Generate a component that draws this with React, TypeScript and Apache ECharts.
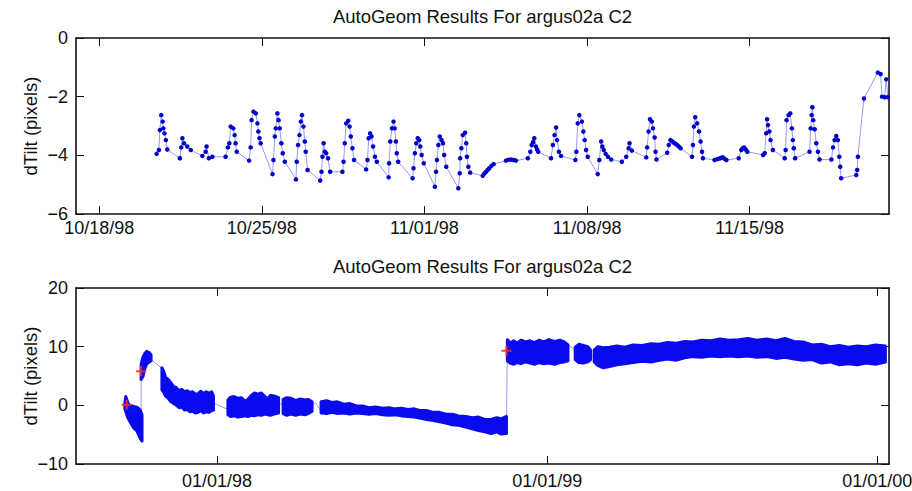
import React, { useEffect, useRef } from 'react';
import * as echarts from 'echarts';

const DAY = 86400000;
const FONT = '"Liberation Sans", Arial, Helvetica, sans-serif';
const TITLE = 'AutoGeom Results For argus02a C2';
const Y_NAME = 'dTilt (pixels)';

// ---------- top panel ----------
const topXTicks = ['1998-10-18', '1998-10-25', '1998-11-01', '1998-11-08', '1998-11-15'];
const topXRange = ['1998-10-17', '1998-11-21'];
const topYRange = [-6, 0];
const topYStep = 2;
// [day counted from 1 Oct 1998 (1 Nov = 32), dTilt]
const topPoints: [number, number][] = [
  [20.47, -3.95], [20.57, -3.82], [20.61, -3.14], [20.67, -2.63], [20.73, -2.85], [20.76, -3.08], [20.81, -3.25], [20.87, -3.48], [20.93, -3.8],
  [21.47, -4.1], [21.53, -3.73], [21.58, -3.42], [21.65, -3.59], [21.79, -3.7], [21.94, -3.82],
  [22.44, -4.02], [22.58, -3.88], [22.62, -3.7], [22.72, -4.1], [22.87, -4.05],
  [23.44, -4.05], [23.54, -3.73], [23.6, -3.59], [23.66, -3.02], [23.77, -3.08], [23.83, -3.31], [23.87, -3.59], [23.92, -3.88],
  [24.45, -4.18], [24.52, -3.73], [24.56, -2.8], [24.64, -2.51], [24.74, -2.57], [24.81, -2.91], [24.85, -3.19], [24.9, -3.42], [24.95, -3.59],
  [25.46, -4.64], [25.5, -4.16], [25.56, -3.36], [25.6, -3.08], [25.67, -2.57], [25.72, -2.8], [25.77, -3.08], [25.84, -3.59], [25.9, -3.93], [25.99, -4.22],
  [26.47, -4.82], [26.5, -4.22], [26.56, -3.65], [26.62, -3.31], [26.68, -2.85], [26.73, -2.63], [26.79, -3.02], [26.85, -3.53], [26.89, -3.88], [26.97, -4.5],
  [27.51, -4.86], [27.57, -4.56], [27.61, -4.05], [27.66, -3.59], [27.71, -3.88], [27.77, -3.93], [27.85, -4.1], [27.94, -4.56],
  [28.47, -4.56], [28.52, -4.22], [28.57, -3.59], [28.63, -2.91], [28.72, -2.82], [28.78, -3.02], [28.83, -3.36], [28.9, -3.76], [28.97, -4.16],
  [29.49, -4.48], [29.55, -4.16], [29.6, -3.42], [29.66, -3.25], [29.72, -3.36], [29.79, -3.7], [29.87, -4.05], [29.95, -4.22],
  [30.46, -4.75], [30.48, -4.27], [30.53, -3.53], [30.6, -3.08], [30.67, -2.85], [30.72, -3.08], [30.77, -3.53], [30.81, -3.93], [30.87, -4.22],
  [31.49, -4.78], [31.53, -4.44], [31.59, -3.93], [31.65, -3.59], [31.71, -3.42], [31.78, -3.48], [31.82, -3.7], [31.88, -3.99], [31.97, -4.27],
  [32.45, -5.07], [32.5, -4.56], [32.54, -4.16], [32.6, -3.65], [32.66, -3.36], [32.74, -3.48], [32.8, -3.59], [32.85, -3.99], [32.94, -4.39],
  [33.46, -5.12], [33.52, -4.61], [33.54, -4.1], [33.59, -3.76], [33.65, -3.31], [33.75, -3.23], [33.8, -3.59], [33.83, -4.05], [33.89, -4.39], [33.97, -4.59],
  [34.51, -4.7], [34.58, -4.62], [34.65, -4.56], [34.72, -4.5], [34.79, -4.44], [34.88, -4.36], [34.98, -4.3],
  [35.51, -4.18], [35.62, -4.15], [35.73, -4.14], [35.84, -4.16], [35.94, -4.18],
  [36.45, -4.1], [36.56, -3.88], [36.62, -3.65], [36.68, -3.55], [36.73, -3.42], [36.8, -3.7], [36.85, -3.8], [36.9, -3.88],
  [37.45, -4.1], [37.53, -3.65], [37.6, -3.31], [37.67, -3.05], [37.71, -3.48], [37.79, -3.88], [37.88, -4.02],
  [38.5, -4.16], [38.54, -3.88], [38.6, -2.91], [38.67, -2.63], [38.78, -2.85], [38.84, -3.19], [38.9, -3.48], [38.96, -3.82], [39.03, -4.05],
  [39.46, -4.64], [39.53, -4.16], [39.61, -3.53], [39.66, -3.7], [39.72, -3.82], [39.8, -3.95], [39.9, -4.05], [40.04, -4.14],
  [40.5, -4.22], [40.69, -4.05], [40.79, -3.76], [40.83, -3.59], [40.93, -3.84],
  [41.55, -4.07], [41.59, -3.73], [41.65, -3.19], [41.71, -2.77], [41.79, -2.85], [41.84, -3.08], [41.91, -3.39], [41.95, -3.88], [41.99, -4.14],
  [42.45, -3.91], [42.52, -3.65], [42.59, -3.48], [42.66, -3.52], [42.74, -3.57], [42.81, -3.61], [42.88, -3.65], [42.95, -3.7], [43.03, -3.76],
  [43.52, -4.05], [43.56, -3.65], [43.6, -3.02], [43.66, -2.7], [43.74, -2.91], [43.82, -3.19], [43.89, -3.53], [43.95, -3.88], [43.99, -4.1],
  [44.49, -4.16], [44.6, -4.13], [44.71, -4.11], [44.78, -4.08], [44.85, -4.07], [44.92, -4.12], [45.0, -4.16],
  [45.53, -4.1], [45.64, -3.82], [45.7, -3.76], [45.76, -3.73], [45.83, -3.8], [45.9, -3.88],
  [46.58, -3.99], [46.65, -3.93], [46.71, -3.25], [46.75, -2.77], [46.79, -2.97], [46.85, -3.19], [46.9, -3.48], [47.0, -3.82],
  [47.51, -4.1], [47.55, -3.82], [47.59, -2.8], [47.68, -2.63], [47.75, -2.57], [47.82, -3.08], [47.86, -3.48], [47.9, -3.76], [47.96, -4.1],
  [48.58, -3.88], [48.63, -3.08], [48.67, -2.63], [48.7, -2.36], [48.74, -2.8], [48.8, -3.11], [48.87, -3.59], [48.94, -3.88], [49.01, -4.14],
  [49.52, -4.14], [49.59, -3.73], [49.66, -3.48], [49.73, -3.34], [49.8, -3.48], [49.86, -4.05], [49.9, -4.39], [49.94, -4.78],
  [50.59, -4.67], [50.63, -4.5], [50.66, -4.05], [50.92, -2.06],
  [51.52, -1.18], [51.64, -1.23], [51.7, -2.0], [51.81, -2.02], [51.88, -1.41], [51.95, -2.02],
];

// ---------- bottom panel ----------
const bottomXTicks = ['1998-01-01', '1999-01-01', '2000-01-01'];
const bottomXRange = ['1997-07-29', '2000-01-14'];
const bottomYRange = [-10, 20];
const bottomYStep = 10;
// dense bands of samples: [date, low, high]
const bandSegments: [string, number, number][][] = [
  [['1997-09-21', -0.6, 0.4], ['1997-09-22', -1.0, 1.5], ['1997-09-24', -2.0, 0.6], ['1997-09-26', -2.6, 0.0], ['1997-09-29', -3.4, -0.1], ['1997-10-01', -3.9, -0.2], ['1997-10-04', -4.3, -0.3], ['1997-10-06', -4.9, -0.5], ['1997-10-08', -5.6, -0.8], ['1997-10-10', -6.1, -1.6]],
  [['1997-10-09', 4.4, 7.0], ['1997-10-11', 4.9, 8.2], ['1997-10-13', 6.2, 8.8], ['1997-10-15', 7.0, 9.2], ['1997-10-18', 7.4, 9.0], ['1997-10-20', 7.6, 8.6]],
  [['1997-11-01', 2.6, 6.4], ['1997-11-03', 2.2, 5.8], ['1997-11-05', 1.6, 4.8], ['1997-11-08', 1.2, 4.4], ['1997-11-11', 0.6, 3.8], ['1997-11-14', 0.3, 3.2], ['1997-11-17', 0.0, 3.0], ['1997-11-20', -0.4, 2.5], ['1997-11-23', -0.3, 2.7], ['1997-11-26', -0.8, 2.3], ['1997-11-29', -0.7, 2.5], ['1997-12-02', -1.1, 2.2], ['1997-12-05', -1.0, 2.3], ['1997-12-08', -1.3, 1.9], ['1997-12-11', -1.2, 2.0], ['1997-12-14', -0.9, 2.4], ['1997-12-17', -1.3, 2.0], ['1997-12-20', -1.1, 2.3], ['1997-12-23', -1.2, 2.1], ['1997-12-26', -0.9, 2.3], ['1997-12-28', -0.8, 1.6]],
  [['1998-01-13', -1.6, 0.9], ['1998-01-16', -1.9, 1.4], ['1998-01-20', -1.8, 1.5], ['1998-01-24', -2.0, 1.2], ['1998-01-28', -1.9, 1.3], ['1998-02-01', -1.8, 0.7], ['1998-02-04', -1.9, 1.0], ['1998-02-08', -1.7, 1.7], ['1998-02-11', -1.8, 2.1], ['1998-02-15', -1.6, 1.9], ['1998-02-19', -1.7, 2.1], ['1998-02-23', -1.5, 1.5], ['1998-02-26', -1.6, 1.1], ['1998-03-01', -1.7, 1.7], ['1998-03-05', -1.5, 1.6], ['1998-03-10', -1.3, 1.3]],
  [['1998-03-15', -1.4, 1.0], ['1998-03-19', -1.7, 1.3], ['1998-03-24', -1.5, 1.2], ['1998-03-29', -1.7, 0.8], ['1998-04-03', -1.5, 1.1], ['1998-04-08', -1.6, 0.9], ['1998-04-12', -1.4, 1.0], ['1998-04-16', -1.0, 0.6]],
  [['1998-04-26', -1.3, 0.6], ['1998-05-02', -1.4, 0.8], ['1998-05-08', -1.2, 0.5], ['1998-05-14', -1.4, 0.6], ['1998-05-21', -1.3, 0.2], ['1998-05-28', -1.5, 0.3], ['1998-06-04', -1.3, -0.1], ['1998-06-11', -1.4, -0.1], ['1998-06-18', -1.5, -0.4], ['1998-06-25', -1.4, -0.3], ['1998-07-03', -1.6, -0.5], ['1998-07-10', -1.7, -0.4], ['1998-07-17', -1.6, -0.6], ['1998-07-24', -1.8, -0.5], ['1998-07-31', -1.9, -0.7], ['1998-08-07', -2.0, -0.6], ['1998-08-14', -2.2, -0.9], ['1998-08-21', -2.4, -0.9], ['1998-08-28', -2.6, -1.2], ['1998-09-04', -2.8, -1.2], ['1998-09-11', -3.0, -1.5], ['1998-09-18', -3.3, -1.5], ['1998-09-25', -3.4, -1.8], ['1998-10-03', -3.7, -1.9], ['1998-10-10', -4.0, -2.1], ['1998-10-17', -4.3, -2.0], ['1998-10-24', -4.5, -2.4], ['1998-10-31', -4.8, -2.4], ['1998-11-06', -4.5, -2.1], ['1998-11-11', -4.9, -2.3], ['1998-11-17', -4.8, -1.9]],
  [['1998-11-18', 7.6, 11.2], ['1998-11-21', 7.2, 10.6], ['1998-11-25', 7.0, 11.0], ['1998-11-29', 7.3, 10.6], ['1998-12-03', 7.1, 11.1], ['1998-12-08', 7.4, 10.8], ['1998-12-13', 7.2, 11.0], ['1998-12-18', 7.0, 10.7], ['1998-12-23', 7.3, 11.1], ['1998-12-28', 7.1, 10.8], ['1999-01-03', 7.2, 11.2], ['1999-01-09', 7.0, 10.9], ['1999-01-15', 7.3, 11.1], ['1999-01-20', 7.4, 10.8], ['1999-01-24', 7.6, 10.3]],
  [['1999-02-01', 7.8, 9.9], ['1999-02-05', 7.3, 10.4], ['1999-02-10', 7.2, 10.2], ['1999-02-15', 7.4, 10.0], ['1999-02-18', 7.8, 9.4]],
  [['1999-02-22', 7.4, 9.4], ['1999-02-26', 6.8, 10.0], ['1999-03-04', 6.4, 9.8], ['1999-03-11', 6.6, 9.9], ['1999-03-19', 6.9, 10.1], ['1999-03-28', 7.1, 9.9], ['1999-04-06', 7.3, 10.3], ['1999-04-16', 7.5, 10.2], ['1999-04-26', 7.4, 10.5], ['1999-05-05', 7.7, 10.4], ['1999-05-14', 7.9, 10.7], ['1999-05-24', 7.7, 10.6], ['1999-06-02', 8.1, 10.9], ['1999-06-11', 8.3, 10.8], ['1999-06-21', 8.2, 11.1], ['1999-07-01', 8.4, 11.0], ['1999-07-11', 8.3, 11.3], ['1999-07-21', 8.4, 11.1], ['1999-08-01', 8.3, 11.2], ['1999-08-11', 8.4, 11.4], ['1999-08-21', 8.2, 11.1], ['1999-09-01', 8.3, 11.3], ['1999-09-11', 8.0, 11.0], ['1999-09-21', 8.2, 11.4], ['1999-10-01', 7.9, 10.9], ['1999-10-11', 7.7, 10.8], ['1999-10-21', 7.8, 10.3], ['1999-10-31', 7.2, 10.4], ['1999-11-10', 7.4, 10.0], ['1999-11-20', 6.9, 10.2], ['1999-11-30', 7.1, 9.9], ['1999-12-10', 6.9, 10.1], ['1999-12-20', 7.2, 10.0], ['1999-12-30', 7.0, 10.3], ['2000-01-10', 7.4, 10.1]],
];
// thin connecting trace through the samples (visible in the gaps)
const bottomTrace: [string, number][] = [
  ['1997-09-21', 0.1], ['1997-10-09', -5.5], ['1997-10-09', 5.8], ['1997-10-20', 7.8], ['1997-11-01', 6.3],
  ['1997-11-10', 3.0], ['1997-12-01', 0.6], ['1997-12-28', 0.4], ['1998-01-13', -0.7], ['1998-03-10', 0.3],
  ['1998-03-15', 0.1], ['1998-04-16', 0.0], ['1998-04-20', 0.4], ['1998-04-26', -1.0], ['1998-07-10', -1.0],
  ['1998-09-04', -2.0], ['1998-10-17', -3.1], ['1998-11-17', -4.0], ['1998-11-18', 10.9],
  ['1999-01-24', 10.3], ['1999-02-01', 9.4], ['1999-02-18', 8.4], ['1999-02-22', 8.6], ['2000-01-10', 8.5],
];
const redMarks: [string, number][] = [['1997-09-23', 0.1], ['1997-10-09', 5.8], ['1998-11-17', 9.3]];

const ts = (s: string) => Date.parse(s + 'T00:00:00Z');
const topT = (d: number) => Date.UTC(1998, 9, 1) + (d - 1) * DAY;
const pad = (n: number) => (n < 10 ? '0' : '') + n;
const fmtDate = (v: number) => {
  const d = new Date(v);
  return pad(d.getUTCMonth() + 1) + '/' + pad(d.getUTCDate()) + '/' + pad(d.getUTCFullYear() % 100);
};
const fmtNum = (v: number) => String(v).replace('-', '\u2212');

const GRID_LEFT = 76;
const GRID_W = 813;
const GRID_H = 176;
const TOPS = [38, 288];
const LINE = '#111';

function xAxesFor(gi: number, range: string[], ticks: string[], margin: number) {
  const tv = ticks.map(ts);
  const base = {
    type: 'value', gridIndex: gi, min: ts(range[0]), max: ts(range[1]), scale: true,
    axisLine: { show: true, onZero: false, lineStyle: { color: LINE, width: 1.6 } },
    splitLine: { show: false },
    axisPointer: { show: false },
  };
  return [
    { ...base, position: 'bottom',
      axisTick: { show: true, inside: true, length: 8, customValues: tv, lineStyle: { color: LINE, width: 1 } },
      axisLabel: { show: true, customValues: tv, formatter: fmtDate, fontSize: 18, color: '#111', fontFamily: FONT, margin } },
    { ...base, position: 'top',
      axisTick: { show: true, inside: true, length: 8, customValues: tv, lineStyle: { color: LINE, width: 1 } },
      axisLabel: { show: false } },
  ];
}

function yAxesFor(gi: number, range: number[], step: number) {
  const base = {
    type: 'value', gridIndex: gi, min: range[0], max: range[1], interval: step,
    axisLine: { show: true, onZero: false, lineStyle: { color: LINE, width: 1.6 } },
    axisTick: { show: true, inside: true, length: 8, lineStyle: { color: LINE, width: 1 } },
    splitLine: { show: false },
  };
  return [
    { ...base, position: 'left', axisLabel: { show: true, formatter: fmtNum, fontSize: 18, color: '#111', fontFamily: FONT, margin: 8 } },
    { ...base, position: 'right', axisLabel: { show: false } },
  ];
}

export default function App() {
  const ref = useRef<HTMLDivElement>(null);
  useEffect(() => {
    if (!ref.current) return;
    const chart = echarts.init(ref.current, null, { renderer: 'svg' });
    const centerX = GRID_LEFT + GRID_W / 2;
    const option: any = {
      animation: false,
      backgroundColor: '#fff',
      grid: TOPS.map((t) => ({ left: GRID_LEFT, top: t, width: GRID_W, height: GRID_H, containLabel: false, outerBoundsMode: 'none' })),
      xAxis: [...xAxesFor(0, topXRange, topXTicks, 5), ...xAxesFor(1, bottomXRange, bottomXTicks, 8)],
      yAxis: [...yAxesFor(0, topYRange, topYStep), ...yAxesFor(1, bottomYRange, bottomYStep)],
      graphic: [
        ...TOPS.map((t) => ({ type: 'text', x: centerX, y: t - 21.5, style: { text: TITLE, align: 'center', verticalAlign: 'middle', fontSize: 18.5, fontFamily: FONT, fill: '#111' } })),
        ...TOPS.map((t) => ({ type: 'text', x: 30, y: t + GRID_H / 2, rotation: Math.PI / 2, style: { text: Y_NAME, align: 'center', verticalAlign: 'middle', fontSize: 18.5, fontFamily: FONT, fill: '#111' } })),
      ],
      series: [
        {
          type: 'line', xAxisIndex: 0, yAxisIndex: 0,
          data: topPoints.map(([d, v]) => [topT(d), v]),
          symbol: 'circle', symbolSize: 4.5, showSymbol: true, showAllSymbol: true,
          itemStyle: { color: '#0000cc' },
          lineStyle: { color: '#9a9af0', width: 1 },
          emphasis: { disabled: true }, silent: true,
        },
        {
          type: 'line', xAxisIndex: 2, yAxisIndex: 2, z: 2,
          data: bottomTrace.map(([d, v]) => [ts(d), v]),
          symbol: 'none', lineStyle: { color: '#9a9af0', width: 1 }, silent: true,
        },
        {
          type: 'custom', xAxisIndex: 2, yAxisIndex: 2, clip: true, silent: true, z: 3,
          data: bandSegments.map((s) => [ts(s[0][0]), s[0][1]]),
          renderItem: (params: any, api: any) => {
            const seg = bandSegments[params.dataIndex];
            const up = seg.map((p) => api.coord([ts(p[0]), p[2]]));
            const lo = seg.map((p) => api.coord([ts(p[0]), p[1]])).reverse();
            return {
              type: 'polygon',
              shape: { points: up.concat(lo) },
              style: { fill: '#0a0aee', stroke: '#0a0aee', lineWidth: 3, lineJoin: 'round' },
            };
          },
        },
        {
          type: 'scatter', xAxisIndex: 2, yAxisIndex: 2, silent: true, z: 5,
          data: redMarks.map(([d, v]) => [ts(d), v]),
          symbol: 'path://M4,0H6V4H10V6H6V10H4V6H0V4H4Z', symbolSize: 10,
          itemStyle: { color: '#ff2a2a', opacity: 0.9 },
        },
      ],
    };
    chart.setOption(option);
    return () => chart.dispose();
  }, []);
  return <div ref={ref} style={{ position: 'absolute', left: 0, top: 0, width: 912, height: 491 }} />;
}
